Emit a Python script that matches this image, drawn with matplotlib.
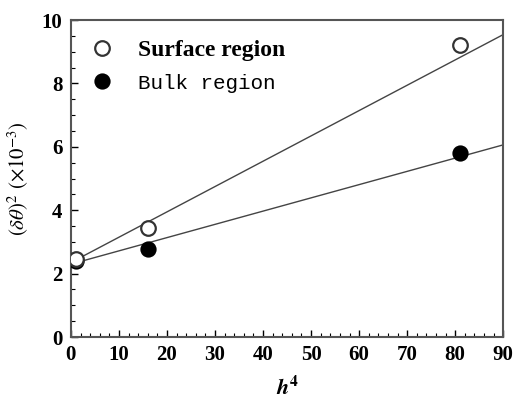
import numpy as np
import matplotlib
matplotlib.use("Agg")
import matplotlib.pyplot as plt

# Data
h4 = [1, 16, 81]
surface = [2.45, 3.43, 9.22]
bulk = [2.40, 2.78, 5.81]
# fitted lines (slope, intercept)
surface_fit = (0.0799, 2.35)
bulk_fit = (0.0418, 2.30)
xticks = [0, 10, 20, 30, 40, 50, 60, 70, 80, 90]
yticks = [0, 2, 4, 6, 8, 10]

plt.rcParams['font.family'] = ['Liberation Serif', 'DejaVu Serif']
plt.rcParams['mathtext.fontset'] = 'stix'

fig = plt.figure(figsize=(5.14, 4.09), dpi=100)
ax = fig.add_axes([0.138, 0.176, 0.841, 0.775])

xl = np.array([0, 90])
ax.plot(xl, surface_fit[0] * xl + surface_fit[1], color='#444444', lw=1.0, zorder=2)
ax.plot(xl, bulk_fit[0] * xl + bulk_fit[1], color='#444444', lw=1.0, zorder=2)

ax.plot(h4, bulk, 'o', ms=10.5, mfc='black', mec='black', mew=1.2, label='Bulk region', zorder=3)
ax.plot(h4, surface, 'o', ms=10.5, mfc='white', mec='#333333', mew=1.6, label='Surface region', zorder=4)

ax.set_xlim(0, 90)
ax.set_ylim(0, 10)
ax.set_xticks(xticks)
ax.set_yticks(yticks)
ax.set_xticks(np.arange(0, 91, 2), minor=True)
ax.set_yticks(np.arange(0, 10.01, 0.5), minor=True)
ax.tick_params(which='both', direction='in', top=False, right=False)
ax.tick_params(which='major', length=5, width=1, labelsize=15, pad=6)
ax.tick_params(which='minor', length=3, width=0.8)
for lab in ax.get_xticklabels() + ax.get_yticklabels():
    lab.set_fontweight('bold')
for s in ax.spines.values():
    s.set_color('#555555')
    s.set_linewidth(1.5)

ax.set_xlabel(r'$\boldsymbol{h}^{\mathbf{4}}$', fontsize=16, labelpad=8)
ax.set_ylabel(r'$(\delta\theta)^2\ (\times10^{-3})$', fontsize=15, labelpad=8)

h, l = ax.get_legend_handles_labels()
leg = ax.legend([h[1], h[0]], [l[1], l[0]], loc='upper left', frameon=False,
                bbox_to_anchor=(0.0, 1.0), fontsize=16, handlelength=1.0,
                handletextpad=1.1, labelspacing=0.55, borderaxespad=0.5)
t = leg.get_texts()
t[0].set_fontweight('bold')
t[0].set_fontsize(17)
t[1].set_family(['Liberation Mono', 'DejaVu Sans Mono'])
t[1].set_fontsize(15)

fig.savefig('out.png', dpi=100)
